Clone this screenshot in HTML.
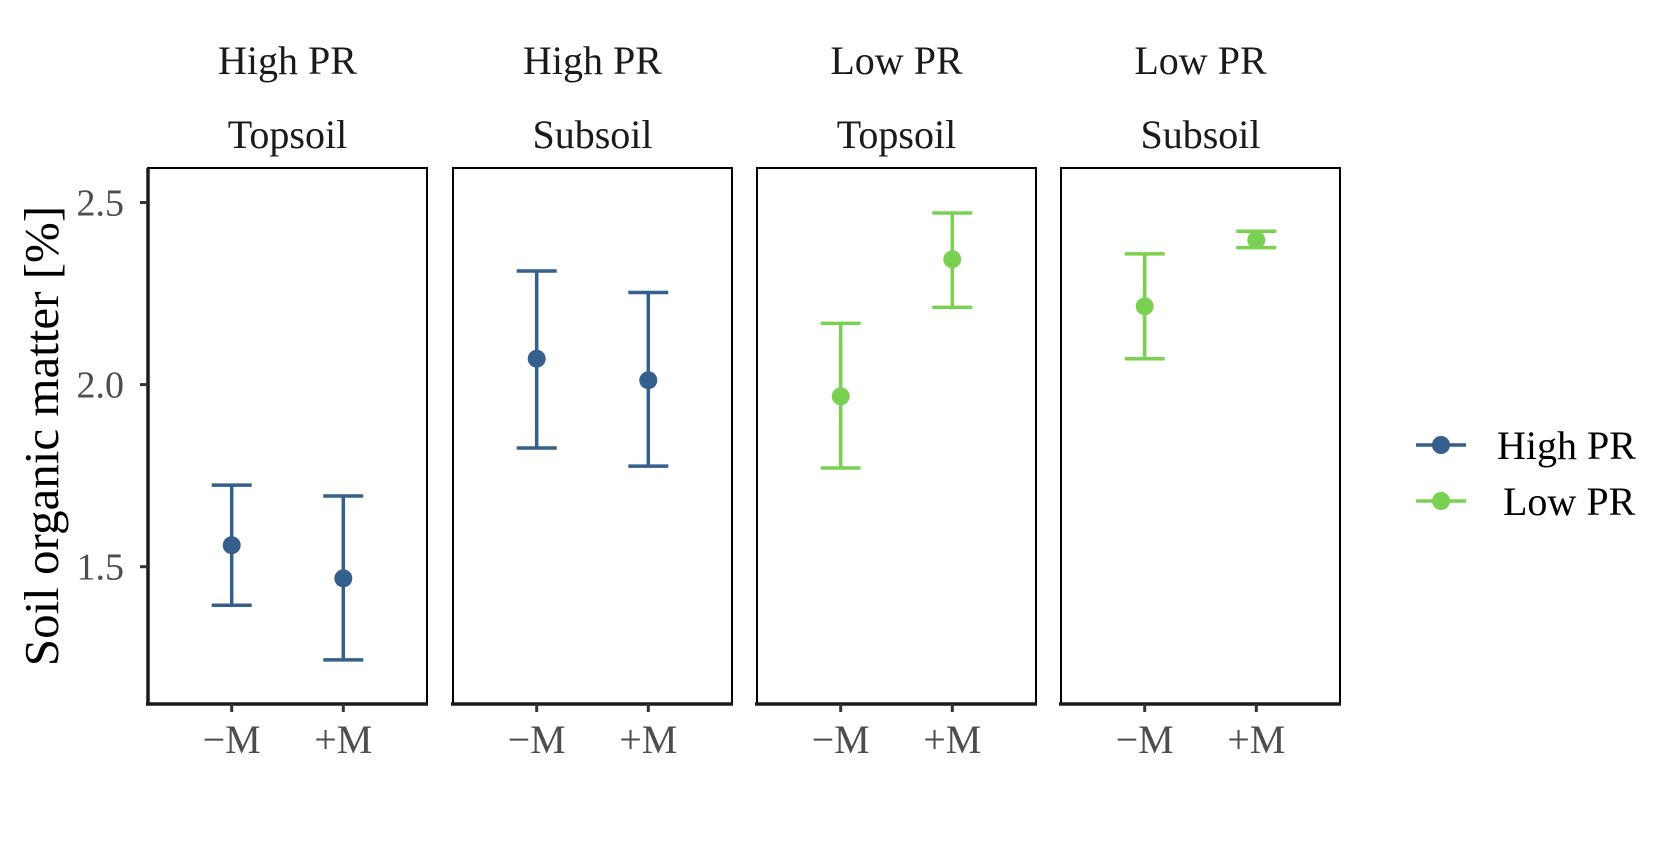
<!DOCTYPE html>
<html><head><meta charset="utf-8"><style>
body{margin:0;background:#fff;}
svg text{font-family:"Liberation Serif",serif;}
</style></head><body>
<svg id="chart" width="1680" height="840" xmlns="http://www.w3.org/2000/svg">
<text transform="translate(58,436) rotate(-90)" text-anchor="middle" font-size="49" fill="#000">Soil organic matter [%]</text>
<g id="panels"></g>
<g>
<g>
<line x1="1416" y1="445" x2="1466" y2="445" stroke="#355f8d" stroke-width="3.5"/>
<circle cx="1441" cy="445" r="9" fill="#355f8d"/>
<text x="1497" y="459" font-size="40" fill="#000">High PR</text></g>
<g>
<line x1="1416" y1="501" x2="1466" y2="501" stroke="#7ad151" stroke-width="3.5"/>
<circle cx="1441" cy="501" r="9" fill="#7ad151"/>
<text x="1503" y="515" font-size="40" fill="#000">Low PR</text></g>
</g>
</svg>
<script>
const panelTitles1 = ["High PR","High PR","Low PR","Low PR"];
const panelTitles2 = ["Topsoil","Subsoil","Topsoil","Subsoil"];
const panelColors = ["#355f8d","#355f8d","#7ad151","#7ad151"];
const categories = ["\u2212M","+M"];
const means = [[1.559,1.468],[2.071,2.012],[1.968,2.344],[2.215,2.397]];
const lows = [[1.394,1.244],[1.826,1.776],[1.771,2.212],[2.071,2.376]];
const highs = [[1.724,1.694],[2.312,2.253],[2.168,2.471],[2.359,2.421]];
const yTicks = [1.5,2.0,2.5];
const yTickLabels = ["1.5","2.0","2.5"];

const NS="http://www.w3.org/2000/svg";
const panelX=[148,453,757,1061], panelW=279, plotTop=168, plotBottom=704;
function yScale(v){return 384.6-(v-2)*364.2;}
function xScale(p,i){return panelX[p]+panelW*(0.3+0.4*i);}
function mk(t,a,parent){const e=document.createElementNS(NS,t);for(const k in a)e.setAttribute(k,a[k]);parent.appendChild(e);return e;}
const panelsG=document.getElementById('panels');
for(let p=0;p<4;p++){
  const pg=mk('g',{},panelsG);
  
  
  const t1=mk('text',{x:panelX[p]+panelW/2,y:74,'text-anchor':'middle','font-size':40,fill:'#1a1a1a'},pg);t1.textContent=panelTitles1[p];
  
  
  const t2=mk('text',{x:panelX[p]+panelW/2,y:148,'text-anchor':'middle','font-size':40,fill:'#1a1a1a'},pg);t2.textContent=panelTitles2[p];
  
  
  const r=mk('rect',{x:panelX[p],y:plotTop,width:panelW,height:plotBottom-plotTop,fill:'none',stroke:'#000','stroke-width':2},pg);
  
  
  const xa=mk('line',{x1:panelX[p]-2,y1:plotBottom,x2:panelX[p]+panelW+1,y2:plotBottom,stroke:'#1a1a1a','stroke-width':3.5},pg);
  
  
  for(let i=0;i<2;i++){
    const cx=xScale(p,i);
    mk('line',{x1:cx,y1:plotBottom,x2:cx,y2:plotBottom+8,stroke:'#333','stroke-width':3},pg);
    const tl=mk('text',{x:cx,y:753,'text-anchor':'middle','font-size':40,fill:'#4d4d4d'},pg);tl.textContent=categories[i];
    
    
    const eb=mk('g',{stroke:panelColors[p],'stroke-width':3.5,fill:panelColors[p]},pg);
    
    
    mk('line',{x1:cx,y1:yScale(lows[p][i]),x2:cx,y2:yScale(highs[p][i])},eb);
    mk('line',{x1:cx-20,y1:yScale(lows[p][i]),x2:cx+20,y2:yScale(lows[p][i])},eb);
    mk('line',{x1:cx-20,y1:yScale(highs[p][i]),x2:cx+20,y2:yScale(highs[p][i])},eb);
    const pt=mk('circle',{cx:cx,cy:yScale(means[p][i]),r:9,stroke:'none'},eb);
    
    
  }
  if(p===0){
    const ya=mk('line',{x1:panelX[0],y1:plotTop,x2:panelX[0],y2:plotBottom+1.5,stroke:'#1a1a1a','stroke-width':3.5},pg);
    
    
    yTicks.forEach((v,k)=>{
      mk('line',{x1:panelX[0]-8,y1:yScale(v),x2:panelX[0],y2:yScale(v),stroke:'#333','stroke-width':3},pg);
      const yl=mk('text',{x:124,y:yScale(v)+13,'text-anchor':'end','font-size':38,fill:'#4d4d4d'},pg);yl.textContent=yTickLabels[k];
      
      
    });
  }
}
</script>
</body></html>
